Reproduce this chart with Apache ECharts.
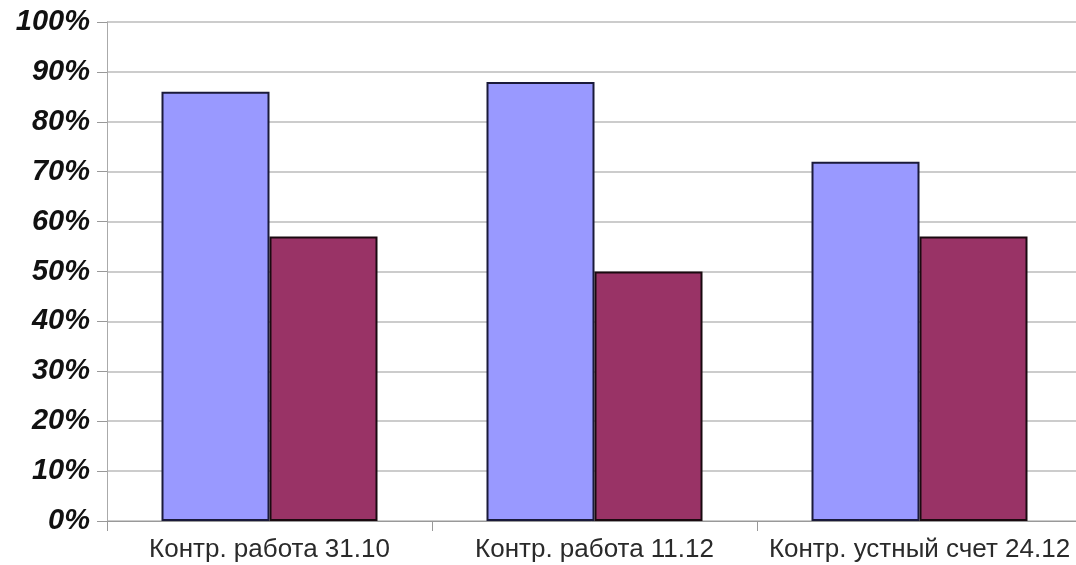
<!DOCTYPE html>
<html><head><meta charset="utf-8">
<script src="https://cdn.jsdelivr.net/npm/echarts@6/dist/echarts.min.js"></script>
<style>html,body{margin:0;padding:0;background:#fff}#c{width:1076px;height:565px}</style>
</head><body><div id="c"></div>
<script>
const categories = ['Контр. работа 31.10', 'Контр. работа 11.12', 'Контр. устный счет 24.12'];
const seriesA = [86, 88, 72];
const seriesB = [57, 50, 57];
const yTicks = [0, 10, 20, 30, 40, 50, 60, 70, 80, 90, 100];

const chart = echarts.init(document.getElementById('c'));
chart.setOption({
  animation: false,
  grid: { left: 107, top: 22, width: 975, height: 499, containLabel: false, outerBoundsMode: 'none' },
  xAxis: {
    type: 'category', data: categories,
    axisLine: { lineStyle: { color: '#999', width: 1 } },
    axisTick: { show: true, length: 10, interval: 0, lineStyle: { color: '#999' } },
    axisLabel: { interval: 0, hideOverlap: false, color: '#2a2a2a', fontFamily: 'Liberation Sans, Arial', fontSize: 26, margin: 16 }
  },
  yAxis: {
    type: 'value', min: 0, max: 100, interval: 10,
    axisLine: { show: true, lineStyle: { color: '#aaa', width: 1 } },
    axisTick: { show: true, length: 10, lineStyle: { color: '#999' } },
    splitLine: { lineStyle: { color: '#bbb', width: 1.5 } },
    axisLabel: {
      formatter: v => yTicks.includes(v) ? v + '%' : '',
      color: '#111', fontFamily: 'Liberation Sans, Arial', fontSize: 29,
      fontWeight: 'bold', fontStyle: 'italic', margin: 17
    }
  },
  series: [
    { type: 'bar', data: seriesA, barWidth: 108, barGap: '0%',
      itemStyle: { color: '#9999FF', borderColor: '#1a1a3a', borderWidth: 2 } },
    { type: 'bar', data: seriesB, barWidth: 108, barGap: '0%',
      itemStyle: { color: '#993366', borderColor: '#1a0a10', borderWidth: 2 } }
  ]
});
</script></body></html>
